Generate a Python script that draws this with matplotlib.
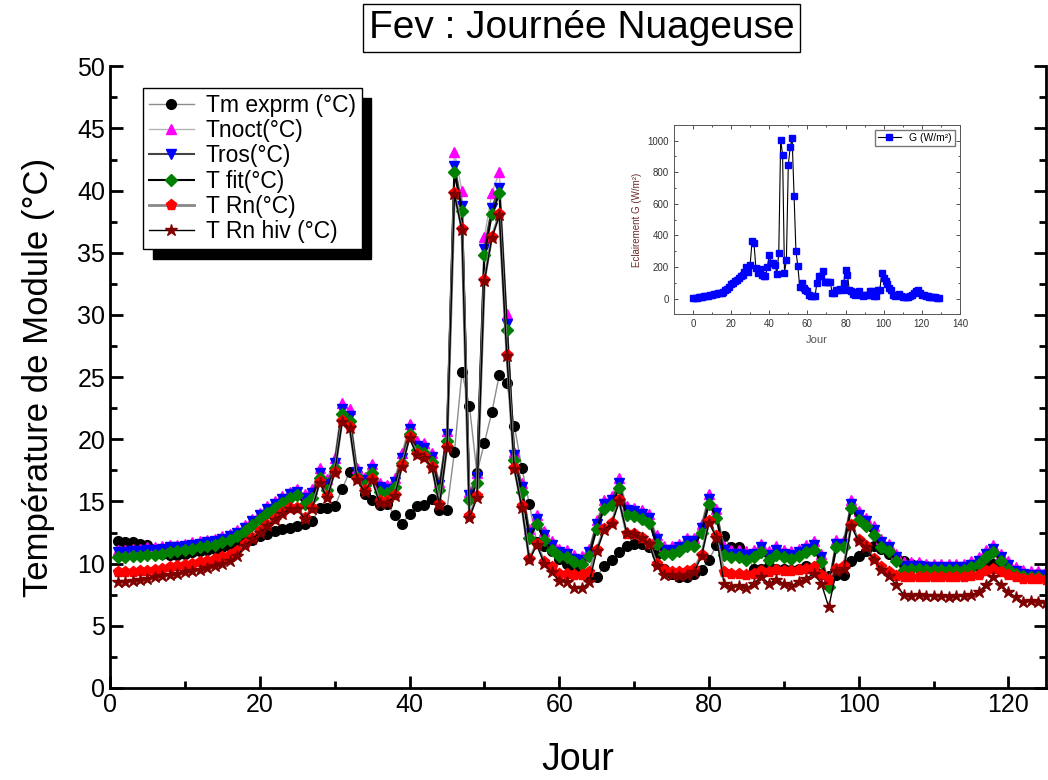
import numpy as np
import matplotlib
matplotlib.use('Agg')
import matplotlib.pyplot as plt
from matplotlib.ticker import MultipleLocator

plt.rcParams['font.family'] = ['Liberation Sans', 'DejaVu Sans']

# jours de mesure (courbes de temperature)
jours = np.arange(1, 127)

# temperature mesuree du module
tm_exprm = [11.8, 11.7, 11.7, 11.6, 11.5, 11.2, 10.8, 10.7, 10.7, 10.8,
            10.9, 11.0, 11.1, 11.2, 11.3, 11.4, 11.5, 11.7, 11.9, 12.2,
            12.4, 12.6, 12.8, 12.9, 13.0, 13.2, 13.4, 14.5, 14.5, 14.6,
            16.0, 17.4, 17.3, 15.6, 15.1, 14.7, 14.8, 13.9, 13.2, 14.0,
            14.6, 14.7, 15.2, 14.3, 14.3, 19.0, 25.4, 22.7, 17.3, 19.7,
            22.2, 25.2, 24.5, 21.1, 17.7, 14.8, 11.7, 11.4, 11.0, 10.4,
            10.0, 9.5, 9.2, 9.0, 8.95, 9.8, 10.3, 10.9, 11.4, 11.6,
            11.55, 11.3, 10.8, 9.6, 9.2, 8.95, 8.95, 9.2, 9.5, 10.3,
            11.5, 12.2, 11.3, 11.3, 10.8, 9.6, 9.6, 9.8, 9.6, 9.6,
            9.5, 9.6, 9.8, 9.5, 9.2, 9.0, 9.1, 9.1, 10.2, 10.6,
            11.0, 11.4, 11.2, 10.8, 10.5, 10.2, 10.0, 9.9, 9.8, 9.7,
            9.7, 9.6, 9.6, 9.6, 9.7, 9.8, 9.9, 10.0, 9.6, 9.3,
            9.2, 9.1, 9.1, 9.2, 9.2, 9.2]

# modele NOCT
t_noct = [11.1, 11.1, 11.2, 11.2, 11.3, 11.3, 11.4, 11.5, 11.5, 11.6,
          11.7, 11.8, 11.9, 12.0, 12.2, 12.4, 12.7, 13.1, 13.6, 14.1,
          14.6, 15.0, 15.4, 15.8, 16.0, 15.6, 16.0, 17.7, 16.8, 18.5,
          22.9, 22.4, 17.7, 17.0, 18.0, 16.5, 16.3, 16.9, 18.9, 21.2,
          19.9, 19.7, 18.9, 16.6, 20.7, 43.1, 40.0, 15.8, 17.3, 36.3,
          39.8, 41.5, 30.1, 19.0, 16.5, 12.8, 13.9, 12.6, 11.8, 11.2,
          11.1, 10.7, 10.6, 11.2, 13.5, 15.1, 15.4, 16.9, 14.6, 14.5,
          14.3, 14.0, 12.3, 11.4, 11.4, 11.6, 12.1, 12.1, 13.2, 15.6,
          14.4, 11.4, 11.1, 11.1, 11.0, 11.1, 11.6, 11.0, 11.4, 11.1,
          11.0, 11.2, 11.5, 11.8, 10.8, 8.5, 11.9, 11.9, 15.1, 14.2,
          13.7, 13.0, 12.0, 11.6, 10.8, 10.1, 10.1, 10.1, 10.0, 10.0,
          10.0, 10.0, 10.0, 10.0, 10.2, 10.5, 11.1, 11.5, 10.8, 10.2,
          9.7, 9.5, 9.4, 9.4, 9.4, 9.4]

# modele de Ross
t_ros = [10.9, 10.9, 11.0, 11.0, 11.1, 11.1, 11.2, 11.3, 11.3, 11.4,
         11.5, 11.6, 11.7, 11.8, 12.0, 12.2, 12.5, 12.9, 13.4, 13.9,
         14.4, 14.8, 15.2, 15.6, 15.8, 15.3, 15.7, 17.3, 16.4, 18.1,
         22.4, 21.9, 17.4, 16.7, 17.6, 16.2, 16.0, 16.6, 18.5, 20.8,
         19.5, 19.3, 18.6, 16.3, 20.4, 42.0, 38.8, 15.5, 17.0, 35.3,
         38.6, 40.2, 29.3, 18.7, 16.2, 12.5, 13.6, 12.3, 11.5, 10.9,
         10.8, 10.4, 10.3, 10.9, 13.2, 14.8, 15.1, 16.5, 14.3, 14.2,
         14.0, 13.7, 12.0, 11.1, 11.1, 11.3, 11.8, 11.8, 12.9, 15.2,
         14.1, 11.1, 10.8, 10.8, 10.7, 10.8, 11.3, 10.7, 11.1, 10.8,
         10.7, 10.9, 11.2, 11.5, 10.5, 8.3, 11.6, 11.6, 14.8, 13.9,
         13.4, 12.7, 11.7, 11.3, 10.5, 9.8, 9.8, 9.8, 9.7, 9.7,
         9.7, 9.7, 9.7, 9.7, 9.9, 10.2, 10.8, 11.2, 10.5, 9.9,
         9.4, 9.2, 9.1, 9.1, 9.1, 9.1]

# modele ajuste
t_fit = [10.5, 10.5, 10.6, 10.6, 10.7, 10.7, 10.8, 10.9, 11.0, 11.1,
         11.2, 11.3, 11.4, 11.5, 11.7, 11.9, 12.2, 12.6, 13.1, 13.6,
         14.1, 14.5, 14.9, 15.3, 15.5, 14.8, 15.3, 16.9, 15.9, 17.7,
         22.0, 21.5, 17.0, 16.3, 17.3, 15.8, 15.7, 16.2, 18.1, 20.4,
         19.1, 18.9, 18.2, 15.9, 19.9, 41.5, 38.4, 15.1, 16.5, 34.8,
         38.1, 39.8, 28.8, 18.3, 15.8, 12.1, 13.2, 11.9, 11.1, 10.6,
         10.5, 10.1, 10.0, 10.6, 12.8, 14.4, 14.7, 16.1, 13.9, 13.8,
         13.6, 13.3, 11.6, 10.8, 10.8, 11.0, 11.4, 11.4, 12.5, 14.8,
         13.7, 10.7, 10.5, 10.5, 10.3, 10.5, 10.9, 10.3, 10.7, 10.5,
         10.4, 10.6, 10.9, 11.1, 10.1, 8.1, 11.3, 11.3, 14.5, 13.5,
         13.0, 12.3, 11.3, 11.0, 10.2, 9.5, 9.6, 9.6, 9.5, 9.5,
         9.5, 9.5, 9.5, 9.5, 9.7, 10.0, 10.5, 10.9, 10.2, 9.6,
         9.2, 9.0, 8.9, 8.9, 8.8, 8.8]

# modele Rn
t_rn = [9.3, 9.3, 9.35, 9.4, 9.4, 9.5, 9.6, 9.7, 9.8, 9.9,
        10.0, 10.1, 10.2, 10.35, 10.5, 10.7, 11.0, 11.6, 12.1, 12.6,
        13.1, 13.6, 14.1, 14.5, 14.5, 13.7, 14.5, 16.6, 15.4, 17.4,
        21.5, 21.0, 16.8, 15.9, 16.8, 15.0, 15.0, 15.5, 17.9, 20.2,
        18.8, 18.6, 17.8, 14.8, 19.4, 39.8, 36.9, 13.8, 15.4, 32.8,
        36.3, 38.1, 26.8, 17.7, 14.6, 10.4, 11.6, 10.15, 9.7, 9.2,
        9.2, 9.1, 9.1, 9.3, 11.1, 12.8, 13.3, 15.1, 12.4, 12.4,
        12.1, 11.6, 10.0, 9.5, 9.35, 9.3, 9.4, 9.6, 10.7, 13.4,
        12.2, 9.3, 9.2, 9.2, 9.1, 9.2, 9.4, 9.3, 9.5, 9.4,
        9.4, 9.5, 9.6, 9.7, 9.1, 8.7, 9.6, 9.8, 13.1, 11.9,
        11.4, 10.4, 9.75, 9.3, 9.0, 8.9, 8.9, 8.9, 8.9, 8.9,
        8.9, 8.9, 8.9, 8.9, 9.0, 9.1, 9.4, 9.6, 9.3, 9.1,
        8.9, 8.8, 8.8, 8.8, 8.7, 8.7]

# modele Rn hiver
t_rn_hiv = [8.5, 8.55, 8.6, 8.7, 8.8, 8.9, 9.0, 9.1, 9.2, 9.3,
            9.4, 9.5, 9.65, 9.8, 9.95, 10.2, 10.6, 11.4, 12.0, 12.5,
            13.0, 13.5, 14.0, 14.4, 14.4, 13.6, 14.4, 16.5, 15.3, 17.3,
            21.4, 20.9, 16.7, 15.8, 16.7, 14.9, 14.9, 15.4, 17.8, 20.1,
            18.7, 18.5, 17.7, 14.7, 19.3, 39.7, 36.8, 13.7, 15.3, 32.7,
            36.2, 38.0, 26.7, 17.6, 14.5, 10.3, 11.5, 10.0, 9.3, 8.6,
            8.5, 8.0, 8.0, 8.5, 11.0, 12.7, 13.2, 15.0, 12.5, 12.4,
            12.1, 11.6, 9.8, 9.1, 9.1, 9.0, 9.1, 9.3, 10.6, 13.3,
            12.1, 8.4, 8.1, 8.2, 8.0, 8.4, 8.95, 8.4, 8.7, 8.4,
            8.2, 8.55, 8.8, 9.2, 8.4, 6.5, 9.4, 9.6, 13.0, 11.8,
            11.3, 10.3, 9.5, 9.0, 8.3, 7.5, 7.4, 7.5, 7.4, 7.4,
            7.4, 7.3, 7.4, 7.4, 7.5, 7.7, 8.3, 8.9, 8.3, 7.7,
            7.3, 6.9, 7.0, 6.9, 6.8, 6.7]

# eclairement (encart)
jours_g = np.arange(0, 130)
eclairement = [5, 6, 6, 8, 9, 11, 13, 15, 18, 21,
               24, 27, 30, 32, 34, 36, 42, 52, 62, 75,
               89, 100, 110, 120, 130, 140, 152, 165, 198, 165,
               215, 363, 352, 194, 162, 190, 150, 141, 141, 198,
               274, 226, 222, 215, 156, 289, 1006, 911, 162, 243,
               848, 958, 1017, 652, 300, 205, 72, 99, 68, 57,
               46, 25, 15, 15, 15, 99, 141, 141, 177, 103,
               103, 103, 103, 36, 36, 51, 57, 63, 51, 99,
               183, 152, 51, 46, 30, 25, 40, 46, 25, 15,
               20, 25, 20, 46, 46, 15, 15, 57, 57, 160,
               131, 114, 89, 68, 57, 25, 15, 25, 30, 15,
               12, 10, 8, 10, 15, 25, 36, 46, 57, 36,
               25, 22, 18, 15, 12, 12, 10, 8, 5, 4]

fig = plt.figure(figsize=(10.48, 7.80), dpi=100)
ax = fig.add_axes([0.105, 0.118, 0.893, 0.797])

ax.plot(jours, tm_exprm, color='#8c8c8c', lw=1, marker='o', ms=7,
        mfc='black', mec='black', label='Tm exprm (°C)')
ax.plot(jours, t_noct, color='#b4b4b4', lw=1, marker='^', ms=7.5,
        mfc='#ff00ff', mec='#ff00ff', label='Tnoct(°C)')
ax.plot(jours, t_ros, color='#444444', lw=1.5, marker='v', ms=7.5,
        mfc='#0000ff', mec='#0000ff', label='Tros(°C)')
ax.plot(jours, t_fit, color='black', lw=1.5, marker='D', ms=6.5,
        mfc='#008000', mec='#008000', label='T fit(°C)')
ax.plot(jours, t_rn, color='#888888', lw=2, marker='p', ms=8,
        mfc='#ff0000', mec='#ff0000', label='T Rn(°C)')
ax.plot(jours, t_rn_hiv, color='black', lw=1, marker='*', ms=9,
        mfc='#800000', mec='#800000', label='T Rn hiv (°C)')

ax.set_xlim(0, 125)
ax.set_ylim(0, 50)
ax.xaxis.set_major_locator(MultipleLocator(20))
ax.xaxis.set_minor_locator(MultipleLocator(10))
ax.yaxis.set_major_locator(MultipleLocator(5))
ax.yaxis.set_minor_locator(MultipleLocator(2.5))
ax.tick_params(which='both', direction='in', width=2, right=True, top=False,
               labelsize=18)
ax.tick_params(which='major', length=9)
ax.tick_params(which='minor', length=5)
for s in ['left', 'bottom', 'right']:
    ax.spines[s].set_linewidth(2)
ax.spines['top'].set_visible(False)

ax.set_xlabel('Jour', fontsize=27, labelpad=18)
ax.set_ylabel('Température de Module (°C)', fontsize=25, labelpad=16)

leg = ax.legend(loc='upper left', bbox_to_anchor=(0.035, 0.965), borderaxespad=0,
                fontsize=16.5, frameon=True, fancybox=False, edgecolor='black',
                handlelength=2.0, handletextpad=0.5, labelspacing=0.1, borderpad=0.25,
                shadow={'ox': 7, 'oy': -7, 'color': 'black', 'alpha': 1})
leg.get_frame().set_linewidth(1)

fig.text(0.555, 0.964, 'Fev : Journée Nuageuse', fontsize=28, ha='center', va='center',
         bbox=dict(boxstyle='square,pad=0.15', fc='white', ec='black', lw=1))

# encart : eclairement G
ax_in = fig.add_axes([0.643, 0.597, 0.273, 0.243])
ax_in.plot(jours_g, eclairement, color='black', lw=0.8, marker='s', ms=4,
           mfc='#0000ff', mec='#0000ff', label='G (W/m²)')
ax_in.set_xlim(-10, 140)
ax_in.set_ylim(-100, 1100)
ax_in.xaxis.set_major_locator(MultipleLocator(20))
ax_in.xaxis.set_minor_locator(MultipleLocator(10))
ax_in.yaxis.set_major_locator(MultipleLocator(200))
ax_in.yaxis.set_minor_locator(MultipleLocator(100))
ax_in.tick_params(which='both', direction='in', right=True, top=True,
                  labelsize=7, colors='#333333', width=0.6)
ax_in.tick_params(which='major', length=3)
ax_in.tick_params(which='minor', length=1.5)
for s in ax_in.spines.values():
    s.set_linewidth(0.7)
    s.set_color('#555555')
ax_in.set_xlabel('Jour', fontsize=8, color='#555555')
ax_in.set_ylabel('Eclairement G (W/m²)', fontsize=7, color='#6b2a2a')
ax_in.legend(loc='upper right', fontsize=7.5, fancybox=False, edgecolor='#555555',
             handlelength=2.2, borderpad=0.3)

fig.savefig('out.png', dpi=100)
